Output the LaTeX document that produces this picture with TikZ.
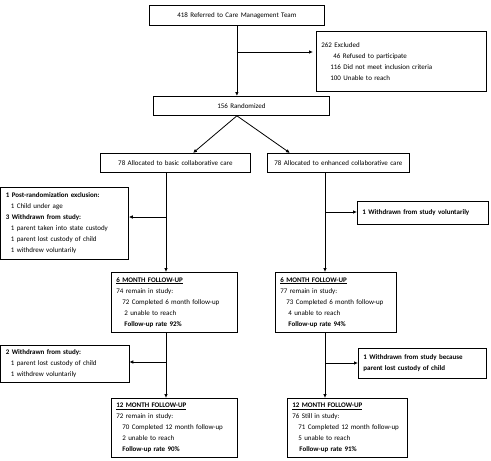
\documentclass[tikz,border=0pt]{standalone}
\usepackage{fontspec}
\setmainfont{Carlito}
\usetikzlibrary{arrows.meta,calc}
\begin{document}
\begin{tikzpicture}[x=1pt,y=-1pt,
  box/.style={draw, line width=0.8pt, anchor=north west, inner xsep=5pt, inner ysep=2pt,
    font=\fontsize{7}{11}\selectfont, align=left},
  cbox/.style={box, align=center},
  arr/.style={line width=0.8pt, -{Latex[length=4pt,width=3.6pt]}},
  ln/.style={line width=0.8pt}]
\useasboundingbox (0,0) rectangle (491,461);
% boxes
\node[cbox, text width=165pt, minimum height=20pt] (top) at (149,5) {418 Referred to Care Management Team};
\node[box, text width=160pt, minimum height=60pt] (excl) at (316,31)
 {262 Excluded\\
  \hspace*{12pt}46 Refused to participate\\
  \hspace*{9pt}116 Did not meet inclusion criteria\\
  \hspace*{9pt}100 Unable to reach};
\node[cbox, text width=166pt, minimum height=19pt] (rand) at (153,96) {156 Randomized};
\node[cbox, text width=140pt, minimum height=19pt] (basic) at (100,153) {78 Allocated to basic collaborative care};
\node[cbox, text width=132pt, minimum height=19pt] (enh) at (267,153) {78 Allocated to enhanced collaborative care};
\node[box, text width=117.5pt, minimum height=72pt, inner xsep=5pt] (postr) at (0.5,187)
 {\textbf{1 Post-randomization exclusion:}\\
  \hspace*{5pt}1 Child under age\\
  \textbf{3 Withdrawn from study:}\\
  \hspace*{5pt}1 parent taken into state custody\\
  \hspace*{5pt}1 parent lost custody of child\\
  \hspace*{5pt}1 withdrew voluntarily};
\node[box, text width=121pt, minimum height=23pt] (wvol) at (357,201)
 {\textbf{1 Withdrawn from study voluntarily}};
\node[box, text width=116pt, minimum height=60pt] (sixL) at (111,272)
 {\textbf{\underline{6 MONTH FOLLOW-UP}}\\
  74 remain in study:\\
  \hspace*{6pt}72 Completed 6 month follow-up\\
  \hspace*{8pt}2 unable to reach\\
  \hspace*{8pt}\textbf{Follow-up rate 92\%}};
\node[box, text width=111pt, minimum height=60pt] (sixR) at (275,272)
 {\textbf{\underline{6 MONTH FOLLOW-UP}}\\
  77 remain in study:\\
  \hspace*{6pt}73 Completed 6 month follow-up\\
  \hspace*{8pt}4 unable to reach\\
  \hspace*{8pt}\textbf{Follow-up rate 94\%}};
\node[box, text width=118pt, minimum height=37pt] (wtwoL) at (0.5,345)
 {\textbf{2 Withdrawn from study:}\\
  \hspace*{5pt}1 parent lost custody of child\\
  \hspace*{5pt}1 withdrew voluntarily};
\node[box, text width=118pt, minimum height=30pt] (woneR) at (358,348)
 {\textbf{1 Withdrawn from study because}\\
  \textbf{parent lost custody of child}};
\node[box, text width=116pt, minimum height=59pt] (twL) at (111,398)
 {\textbf{\underline{12 MONTH FOLLOW-UP}}\\
  72 remain in study:\\
  \hspace*{6pt}70 Completed 12 month follow-up\\
  \hspace*{6pt}2 unable to reach\\
  \hspace*{6pt}\textbf{Follow-up rate 90\%}};
\node[box, text width=110pt, minimum height=59pt] (twR) at (287,398)
 {\textbf{\underline{12 MONTH FOLLOW-UP}}\\
  76 Still in study:\\
  \hspace*{6pt}71 Completed 12 month follow-up\\
  \hspace*{6pt}5 unable to reach\\
  \hspace*{7pt}\textbf{Follow-up rate 91\%}};
% connectors
\coordinate (topS) at (236.5,25);
\draw[arr] (top.south) -- (top.south |- rand.north);
\coordinate (jEx) at (236.5,52);
\draw[arr] (jEx) -- ($(excl.west |- jEx)+(-3,0)$);
\coordinate (apex) at (top.south |- rand.south);
\draw[arr] (apex) -- ($(basic.north west)+(93,0)$);
\draw[arr] (apex) -- ($(enh.north west)+(23,0)$);
% left column
\coordinate (L1) at ($(basic.south west)+(66,0)$);
\draw[arr] (L1) -- (L1 |- sixL.north);
\coordinate (jL1) at (166,217);
\draw[arr] (jL1) -- (postr.east |- jL1);
\coordinate (L2) at (166,332);
\draw[arr] (L2 |- sixL.south) -- (L2 |- twL.north);
\coordinate (jL2) at (166,362);
\draw[arr] (jL2) -- (wtwoL.east |- jL2);
% right column
\coordinate (R1) at ($(enh.south west)+(58,0)$);
\draw[arr] (R1) -- (R1 |- sixR.north);
\coordinate (jR1) at (325,212);
\draw[arr] (jR1) -- (wvol.west |- jR1);
\coordinate (R2) at (325,332);
\draw[arr] (R2 |- sixR.south) -- (R2 |- twR.north);
\coordinate (jR2) at (325,363);
\draw[arr] (jR2) -- (woneR.west |- jR2);
\end{tikzpicture}
\end{document}
